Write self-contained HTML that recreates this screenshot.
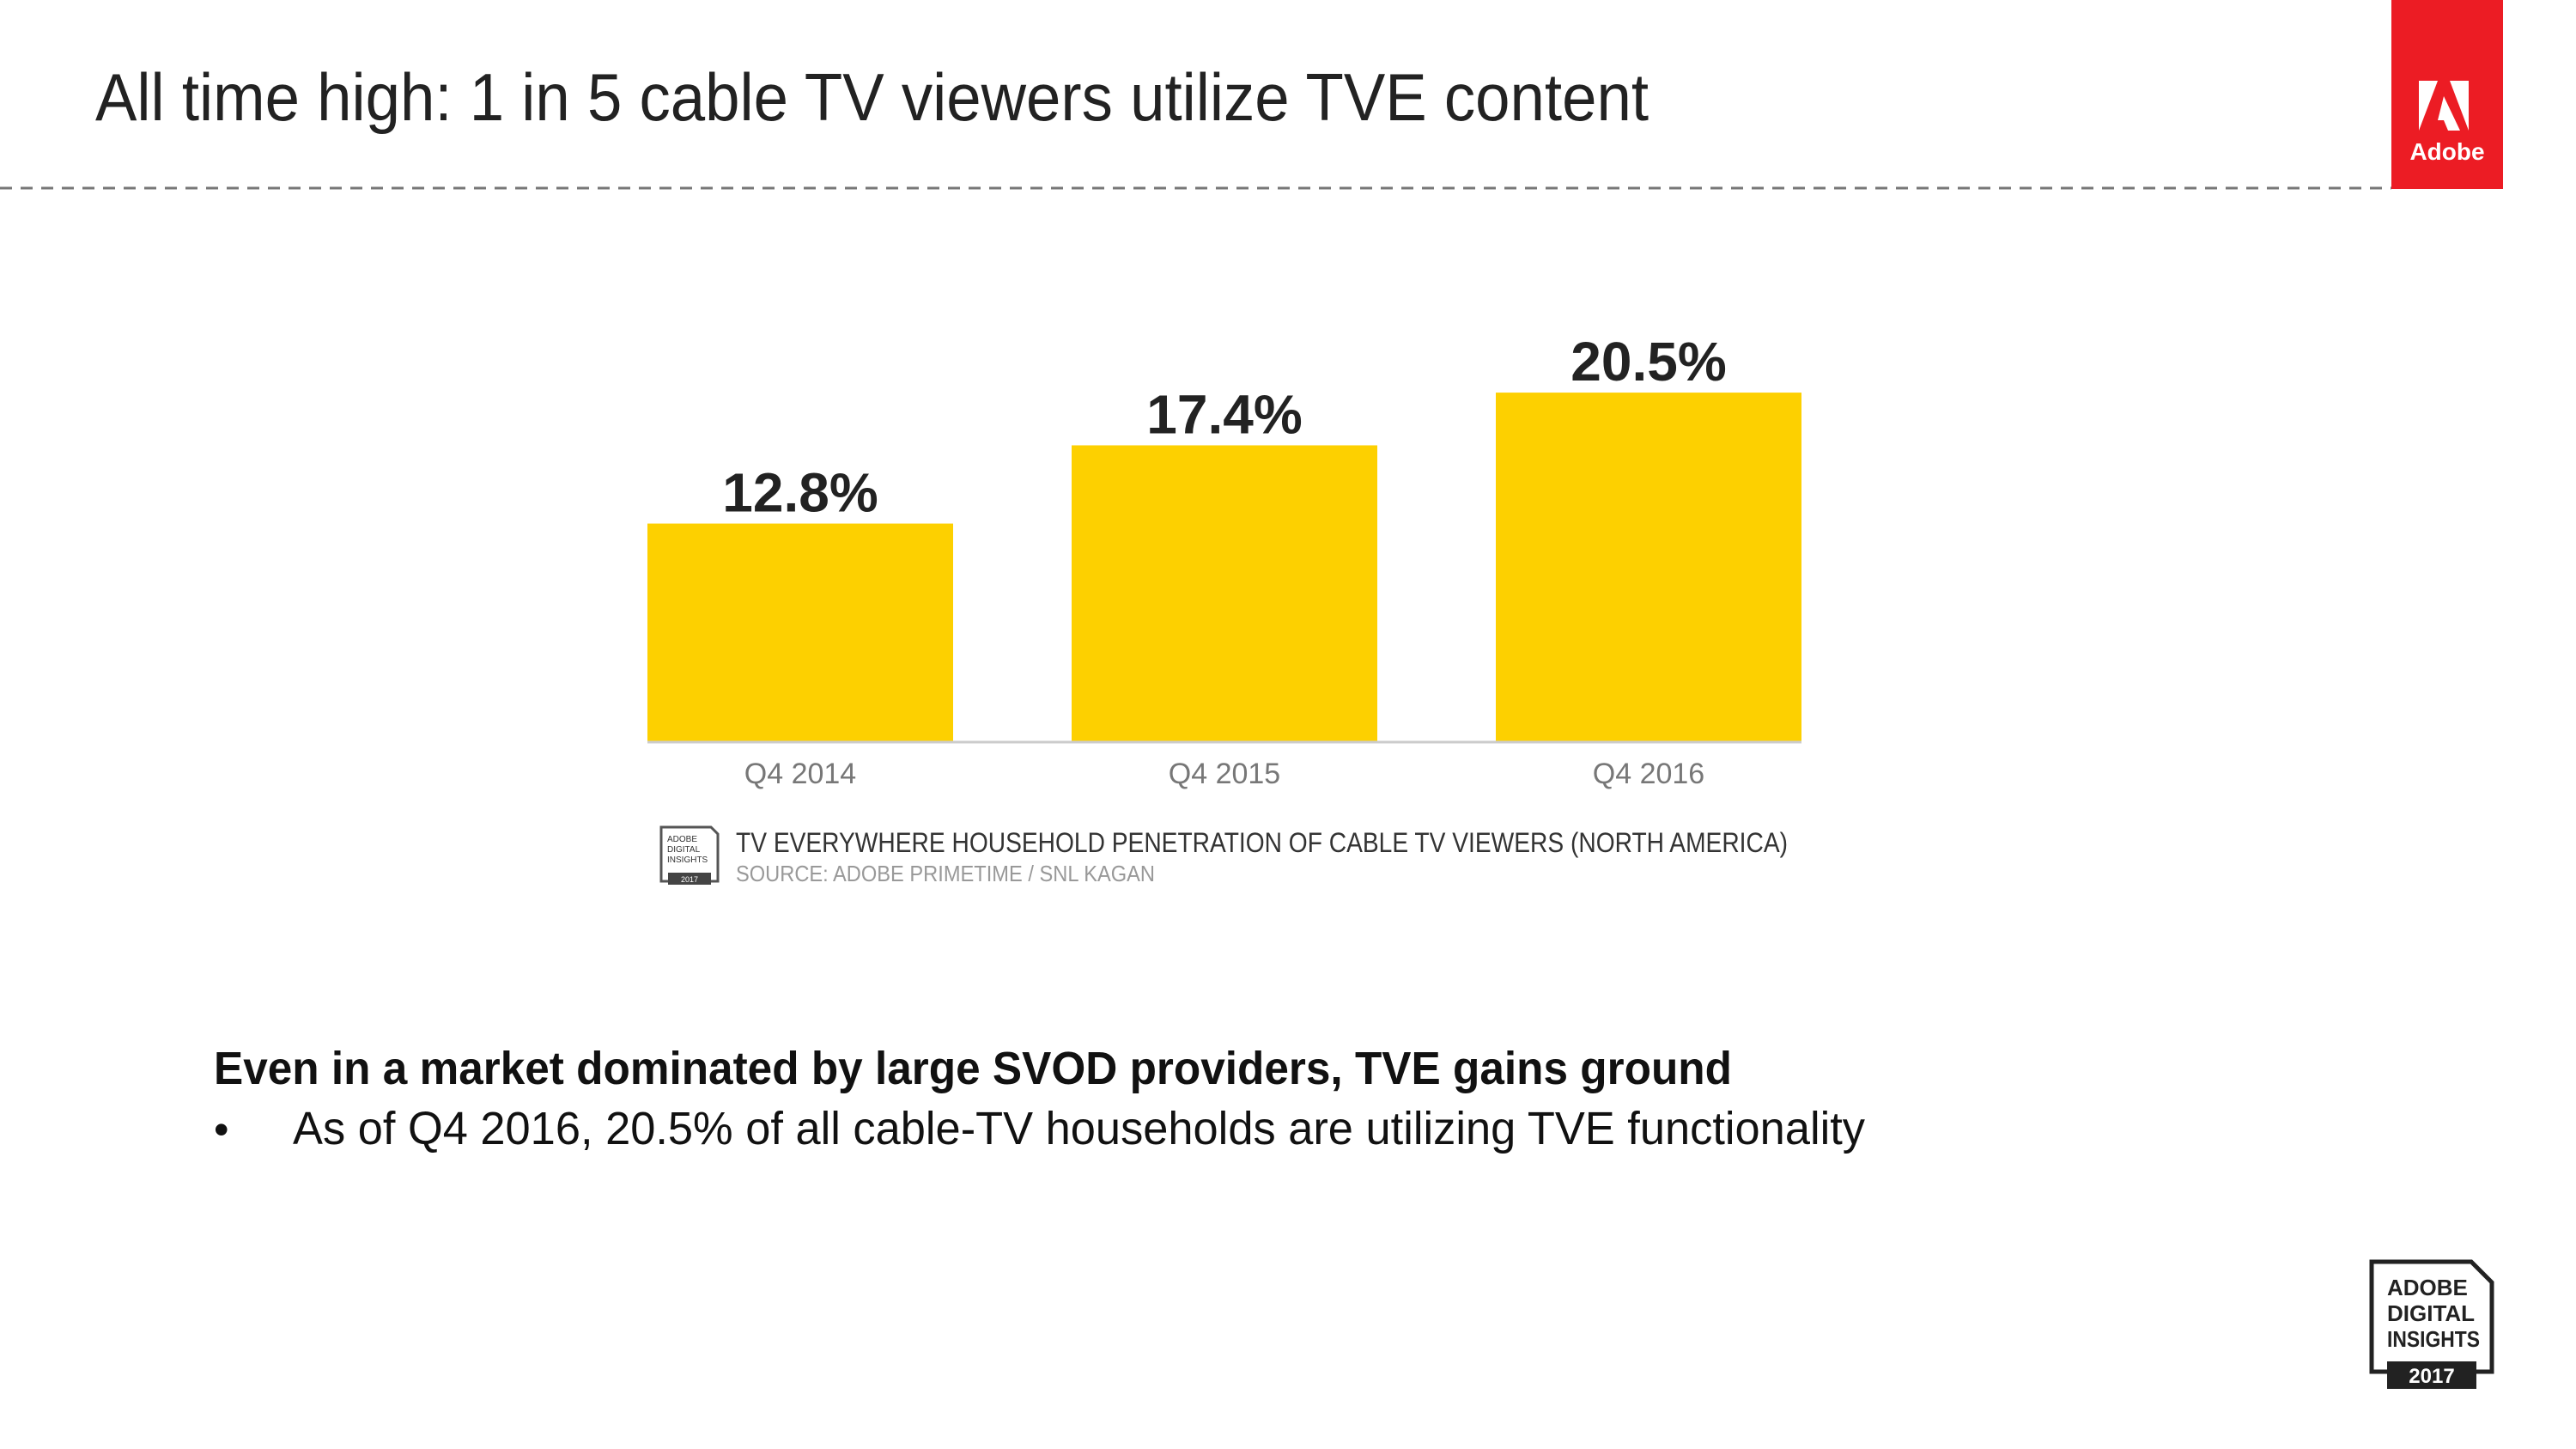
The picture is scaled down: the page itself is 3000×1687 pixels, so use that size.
<!DOCTYPE html>
<html><head><meta charset="utf-8"><style>
html,body{margin:0;padding:0;background:#fff;}
svg{display:block;font-family:"Liberation Sans",sans-serif;}
</style></head><body>
<svg id="chart" width="3000" height="1687" viewBox="0 0 3000 1687">
<text x="111" y="140" font-size="78" fill="#222" textLength="1809" lengthAdjust="spacingAndGlyphs">All time high: 1 in 5 cable TV viewers utilize TVE content</text>
<line x1="0" y1="219" x2="2785" y2="219" stroke="#777" stroke-width="3" stroke-dasharray="14,10"/>
<g>
<rect x="2785" y="0" width="130" height="220" fill="#ec1c24"/>
<polygon points="2817,94 2839,94 2817,152" fill="#fff"/>
<polygon points="2853,94 2875,94 2875,152" fill="#fff"/>
<polygon points="2846,112 2865,152 2851,152 2846,140 2839,140" fill="#fff"/>
<text x="2850" y="186" font-size="28" font-weight="bold" fill="#fff" text-anchor="middle">Adobe</text>
</g>
<g id="bars"></g>
<line x1="754" y1="864" x2="2098" y2="864" stroke="#ccc" stroke-width="3"/>
<g>
<path d="M770,963 L828,963 L836,971 L836,1026 L770,1026 Z" fill="none" stroke="#555" stroke-width="3"/>
<rect x="778" y="1016" width="50" height="14" fill="#444"/>
<text x="777" y="980" font-size="10" fill="#333">ADOBE</text>
<text x="777" y="992" font-size="10" fill="#333">DIGITAL</text>
<text x="777" y="1004" font-size="10" fill="#333">INSIGHTS</text>
<text x="803" y="1027" font-size="9" fill="#fff" text-anchor="middle">2017</text>
</g>
<text x="857" y="992" font-size="32" fill="#333" textLength="1225" lengthAdjust="spacingAndGlyphs">TV EVERYWHERE HOUSEHOLD PENETRATION OF CABLE TV VIEWERS (NORTH AMERICA)</text>
<text x="857" y="1026" font-size="26" fill="#999" textLength="488" lengthAdjust="spacingAndGlyphs">SOURCE: ADOBE PRIMETIME / SNL KAGAN</text>
<text x="249" y="1262" font-size="54" font-weight="bold" fill="#111" textLength="1768" lengthAdjust="spacingAndGlyphs">Even in a market dominated by large SVOD providers, TVE gains ground</text>
<text x="249" y="1332" font-size="50" fill="#111">•</text>
<text x="341" y="1332" font-size="54" fill="#111" textLength="1831" lengthAdjust="spacingAndGlyphs">As of Q4 2016, 20.5% of all cable-TV households are utilizing TVE functionality</text>
<g>
<path d="M2762,1469 L2878,1469 L2902,1493 L2902,1597 L2762,1597 Z" fill="#fff" stroke="#222" stroke-width="5"/>
<rect x="2780" y="1585" width="104" height="32" fill="#222"/>
<text x="2780" y="1508" font-size="26" font-weight="bold" fill="#222">ADOBE</text>
<text x="2780" y="1538" font-size="26" font-weight="bold" fill="#222">DIGITAL</text>
<text x="2780" y="1568" font-size="26" font-weight="bold" fill="#222" textLength="108" lengthAdjust="spacingAndGlyphs">INSIGHTS</text>
<text x="2832" y="1610" font-size="24" font-weight="bold" fill="#fff" text-anchor="middle">2017</text>
</g>
</svg>
<script>
const categories = ["Q4 2014", "Q4 2015", "Q4 2016"];
const values = [12.8, 17.4, 20.5];
const valueLabels = ["12.8%", "17.4%", "20.5%"];
const NS = "http://www.w3.org/2000/svg";
const baseY = 863, pxPerUnit = 19.8, x0 = 754, step = 494, barW = 356;
function yScale(v){ return baseY - v * pxPerUnit; }
function xScale(i){ return x0 + i * step; }
const g = document.getElementById('bars');
categories.forEach((c, i) => {
  const r = document.createElementNS(NS, 'rect');
  r.setAttribute('x', xScale(i));
  r.setAttribute('y', yScale(values[i]));
  r.setAttribute('width', barW);
  r.setAttribute('height', baseY - yScale(values[i]));
  r.setAttribute('fill', '#fdd000');
  
  
  g.appendChild(r);
  const t = document.createElementNS(NS, 'text');
  t.setAttribute('x', xScale(i) + barW / 2);
  t.setAttribute('y', yScale(values[i]) - 14);
  t.setAttribute('font-size', '64');
  t.setAttribute('font-weight', 'bold');
  t.setAttribute('fill', '#222');
  t.setAttribute('text-anchor', 'middle');
  t.textContent = valueLabels[i];
  
  
  g.appendChild(t);
  const l = document.createElementNS(NS, 'text');
  l.setAttribute('x', xScale(i) + barW / 2);
  l.setAttribute('y', 912);
  l.setAttribute('font-size', '34');
  l.setAttribute('fill', '#777');
  l.setAttribute('text-anchor', 'middle');
  l.textContent = c;
  
  
  g.appendChild(l);
});
</script>
</body></html>
